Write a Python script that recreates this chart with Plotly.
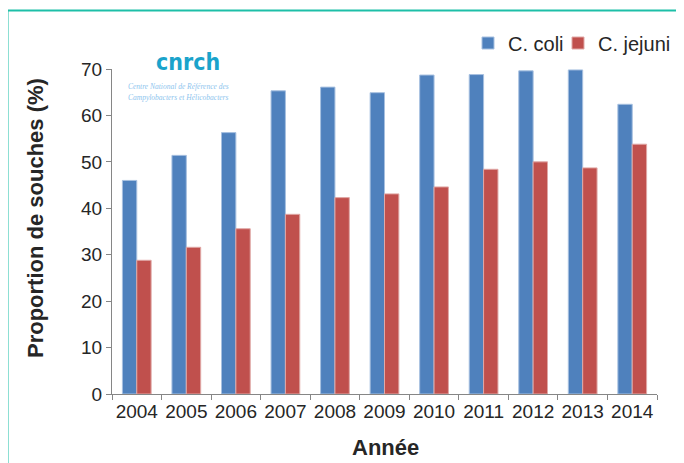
import plotly.graph_objects as go

years = ["2004", "2005", "2006", "2007", "2008", "2009", "2010", "2011", "2012", "2013", "2014"]
c_coli = [46.0, 51.4, 56.3, 65.3, 66.1, 64.9, 68.7, 68.8, 69.6, 69.8, 62.4]
c_jejuni = [28.8, 31.6, 35.6, 38.7, 42.3, 43.1, 44.6, 48.4, 50.0, 48.7, 53.8]
y_ticks = [0, 10, 20, 30, 40, 50, 60, 70]

# page offset (default body margin of the html page)
OFF = 8
PAGE_W, PAGE_H = 684, 463
W, H = PAGE_W - OFF, PAGE_H - OFF
# plot area in page pixels
X0, X1, Y0, Y1 = 112, 657, 69, 394
ML, MT = X0 - OFF, Y0 - OFF
MR, MB = W - (X1 - OFF), H - (Y1 - OFF)
PW, PH = X1 - X0, Y1 - Y0

def px(x):
    return (x - X0) / PW

def py(y):
    return (Y1 - y) / PH

fig = go.Figure()
fig.add_trace(go.Bar(x=years, y=c_coli, name="C. coli", legend="legend",
                     marker=dict(color="#4F81BD", line=dict(color="#A7C0E0", width=1))))
fig.add_trace(go.Bar(x=years, y=c_jejuni, name="C. jejuni", legend="legend2",
                     marker=dict(color="#C0504D", line=dict(color="#E0A8A6", width=1))))

leg_common = dict(orientation="h", yanchor="middle", xanchor="left",
                  font=dict(size=20, color="#262626"), bgcolor="rgba(0,0,0,0)")
fig.update_layout(
    width=W, height=H,
    margin=dict(l=ML, r=MR, t=MT, b=MB, autoexpand=False),
    paper_bgcolor="white", plot_bgcolor="white",
    barmode="group", bargap=0.42, bargroupgap=0,
    font=dict(family="Liberation Sans, Arial", color="#262626"),
    showlegend=True,
    legend=dict(x=px(468), y=py(43), **leg_common),
    legend2=dict(x=px(558), y=py(43), **leg_common),
)
fig.update_xaxes(
    type="category", showline=True, linecolor="#868686", linewidth=1,
    ticks="outside", tickson="boundaries", ticklen=5, tickcolor="#868686",
    tickfont=dict(size=19, color="#262626"), tickangle=0, automargin=False,
    showgrid=False,
)
fig.update_yaxes(
    range=[0, 70], tickvals=y_ticks, showline=True, linecolor="#868686", linewidth=1,
    ticks="outside", ticklen=5, tickcolor="#868686",
    tickfont=dict(size=19, color="#262626"), automargin=False,
    showgrid=False, zeroline=False,
)

def note(x, y, text, **kw):
    fig.add_annotation(xref="paper", yref="paper", x=px(x), y=py(y), text=text,
                       xanchor="center", yanchor="middle", showarrow=False, **kw)

# axis titles
note(385, 447, "<b>Année</b>", font=dict(size=22, color="#262626"))
note(35, 218, "<b>Proportion de souches (%)</b>", textangle=-90, font=dict(size=22, color="#262626"))

# teal frame (left and top edges of the surrounding box)
fig.add_shape(type="line", xref="paper", yref="paper", x0=px(7.5), x1=px(7.5), y0=py(PAGE_H + 5), y1=py(10.5),
              line=dict(color="#1DBFA8", width=2))
fig.add_shape(type="line", xref="paper", yref="paper", x0=px(7.5), x1=px(PAGE_W + 5), y0=py(10.5), y1=py(10.5),
              line=dict(color="#1DBFA8", width=2))

# logo
note(188, 62, "<b>cnrch</b>",
     font=dict(family="Liberation Sans Narrow, DejaVu Sans Condensed", size=23, color="#1AA3CB"))
note(178, 86.5, "<i>Centre National de Référence des</i>",
     font=dict(family="Liberation Serif", size=7.5, color="#8EC5EE"))
note(178, 97.5, "<i>Campylobacters et Hélicobacters</i>",
     font=dict(family="Liberation Serif", size=7.5, color="#8EC5EE"))

fig.write_html("out.html")
